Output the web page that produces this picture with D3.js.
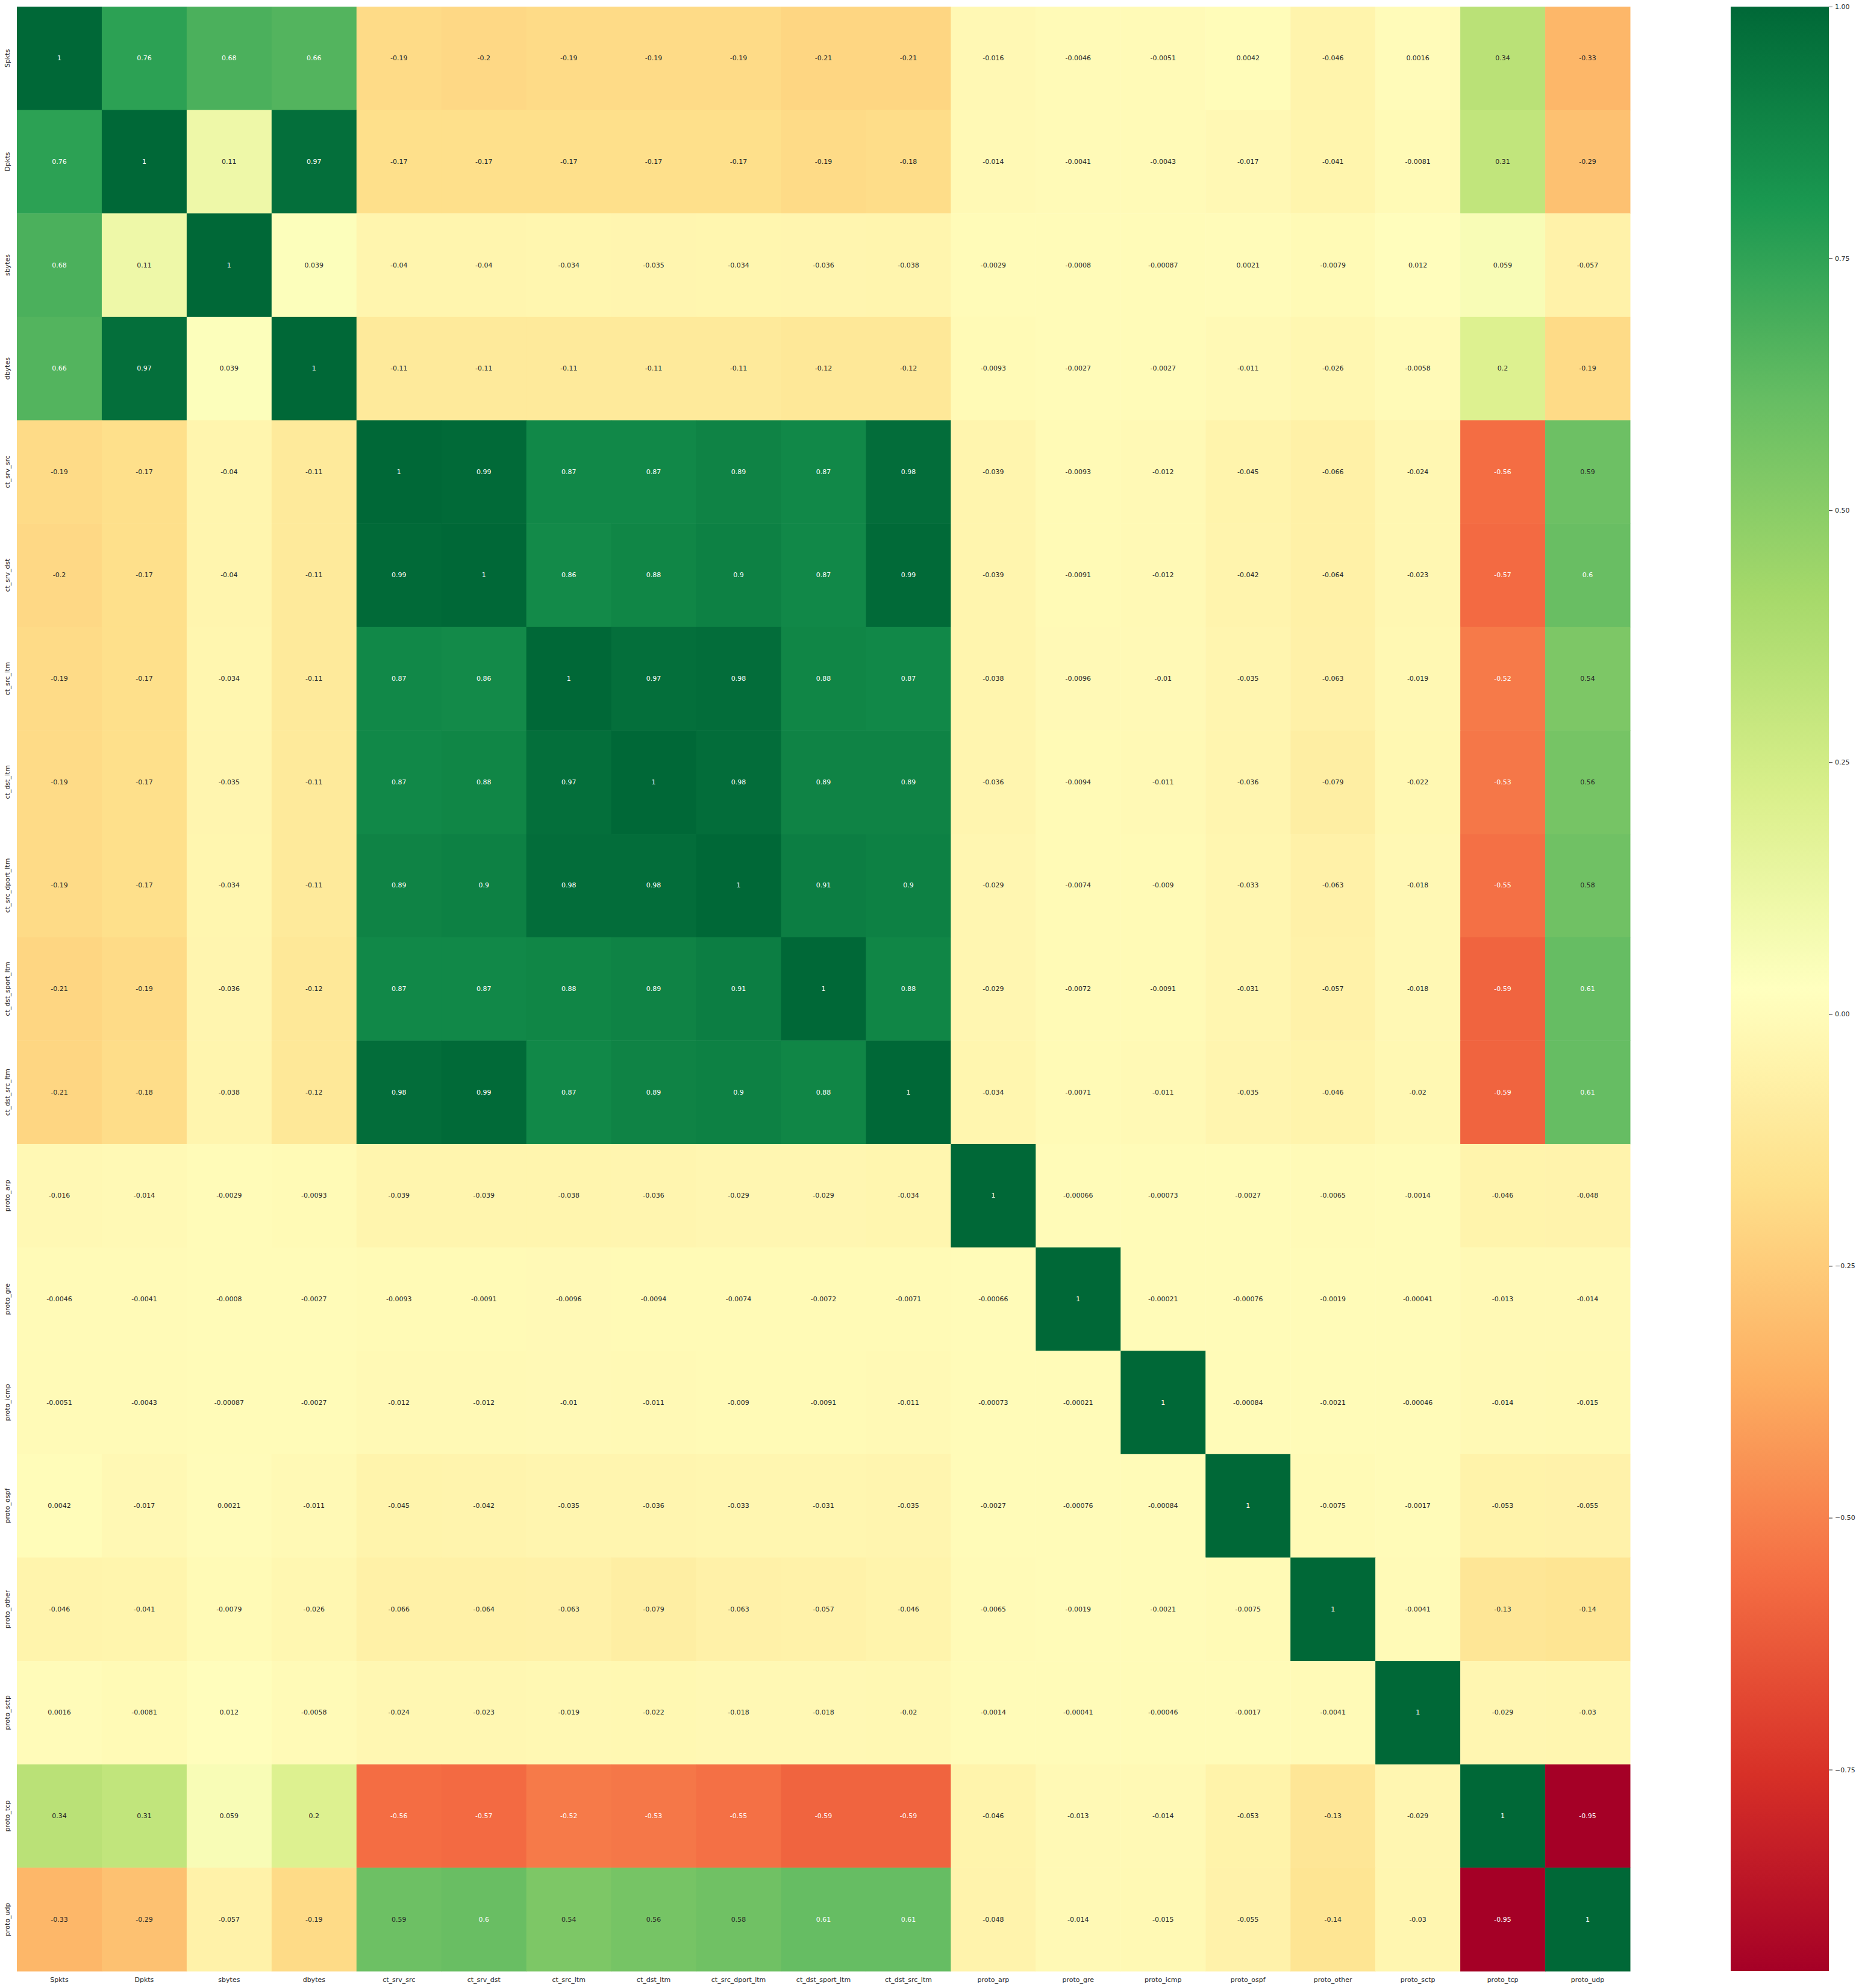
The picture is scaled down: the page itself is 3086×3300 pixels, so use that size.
<!DOCTYPE html>
<html>
<head>
<meta charset="utf-8">
<script src="https://cdn.jsdelivr.net/npm/d3@7"></script>
<style>
  body { margin: 0; background: #fff; }
  text { font-family: "DejaVu Sans", sans-serif; }
</style>
</head>
<body>
<div id="chart"></div>
<script>
// feature names (same order on both axes)
var features = ["Spkts", "Dpkts", "sbytes", "dbytes", "ct_srv_src", "ct_srv_dst",
    "ct_src_ltm", "ct_dst_ltm", "ct_src_dport_ltm", "ct_dst_sport_ltm", "ct_dst_src_ltm",
    "proto_arp", "proto_gre", "proto_icmp", "proto_ospf", "proto_other", "proto_sctp",
    "proto_tcp", "proto_udp"];

// correlation matrix, one row per feature
var corr = [
    [1, 0.76, 0.68, 0.66, -0.19, -0.2, -0.19, -0.19, -0.19, -0.21, -0.21, -0.016, -0.0046, -0.0051, 0.0042, -0.046, 0.0016, 0.34, -0.33],
    [0.76, 1, 0.11, 0.97, -0.17, -0.17, -0.17, -0.17, -0.17, -0.19, -0.18, -0.014, -0.0041, -0.0043, -0.017, -0.041, -0.0081, 0.31, -0.29],
    [0.68, 0.11, 1, 0.039, -0.04, -0.04, -0.034, -0.035, -0.034, -0.036, -0.038, -0.0029, -0.0008, -0.00087, 0.0021, -0.0079, 0.012, 0.059, -0.057],
    [0.66, 0.97, 0.039, 1, -0.11, -0.11, -0.11, -0.11, -0.11, -0.12, -0.12, -0.0093, -0.0027, -0.0027, -0.011, -0.026, -0.0058, 0.2, -0.19],
    [-0.19, -0.17, -0.04, -0.11, 1, 0.99, 0.87, 0.87, 0.89, 0.87, 0.98, -0.039, -0.0093, -0.012, -0.045, -0.066, -0.024, -0.56, 0.59],
    [-0.2, -0.17, -0.04, -0.11, 0.99, 1, 0.86, 0.88, 0.9, 0.87, 0.99, -0.039, -0.0091, -0.012, -0.042, -0.064, -0.023, -0.57, 0.6],
    [-0.19, -0.17, -0.034, -0.11, 0.87, 0.86, 1, 0.97, 0.98, 0.88, 0.87, -0.038, -0.0096, -0.01, -0.035, -0.063, -0.019, -0.52, 0.54],
    [-0.19, -0.17, -0.035, -0.11, 0.87, 0.88, 0.97, 1, 0.98, 0.89, 0.89, -0.036, -0.0094, -0.011, -0.036, -0.079, -0.022, -0.53, 0.56],
    [-0.19, -0.17, -0.034, -0.11, 0.89, 0.9, 0.98, 0.98, 1, 0.91, 0.9, -0.029, -0.0074, -0.009, -0.033, -0.063, -0.018, -0.55, 0.58],
    [-0.21, -0.19, -0.036, -0.12, 0.87, 0.87, 0.88, 0.89, 0.91, 1, 0.88, -0.029, -0.0072, -0.0091, -0.031, -0.057, -0.018, -0.59, 0.61],
    [-0.21, -0.18, -0.038, -0.12, 0.98, 0.99, 0.87, 0.89, 0.9, 0.88, 1, -0.034, -0.0071, -0.011, -0.035, -0.046, -0.02, -0.59, 0.61],
    [-0.016, -0.014, -0.0029, -0.0093, -0.039, -0.039, -0.038, -0.036, -0.029, -0.029, -0.034, 1, -0.00066, -0.00073, -0.0027, -0.0065, -0.0014, -0.046, -0.048],
    [-0.0046, -0.0041, -0.0008, -0.0027, -0.0093, -0.0091, -0.0096, -0.0094, -0.0074, -0.0072, -0.0071, -0.00066, 1, -0.00021, -0.00076, -0.0019, -0.00041, -0.013, -0.014],
    [-0.0051, -0.0043, -0.00087, -0.0027, -0.012, -0.012, -0.01, -0.011, -0.009, -0.0091, -0.011, -0.00073, -0.00021, 1, -0.00084, -0.0021, -0.00046, -0.014, -0.015],
    [0.0042, -0.017, 0.0021, -0.011, -0.045, -0.042, -0.035, -0.036, -0.033, -0.031, -0.035, -0.0027, -0.00076, -0.00084, 1, -0.0075, -0.0017, -0.053, -0.055],
    [-0.046, -0.041, -0.0079, -0.026, -0.066, -0.064, -0.063, -0.079, -0.063, -0.057, -0.046, -0.0065, -0.0019, -0.0021, -0.0075, 1, -0.0041, -0.13, -0.14],
    [0.0016, -0.0081, 0.012, -0.0058, -0.024, -0.023, -0.019, -0.022, -0.018, -0.018, -0.02, -0.0014, -0.00041, -0.00046, -0.0017, -0.0041, 1, -0.029, -0.03],
    [0.34, 0.31, 0.059, 0.2, -0.56, -0.57, -0.52, -0.53, -0.55, -0.59, -0.59, -0.046, -0.013, -0.014, -0.053, -0.13, -0.029, 1, -0.95],
    [-0.33, -0.29, -0.057, -0.19, 0.59, 0.6, 0.54, 0.56, 0.58, 0.61, 0.61, -0.048, -0.014, -0.015, -0.055, -0.14, -0.03, -0.95, 1]
];

var colorbarTicks = [-0.75, -0.5, -0.25, 0, 0.25, 0.5, 0.75, 1];
var vmin = -0.95, vmax = 1;

// matplotlib RdYlGn anchors (linear in rgb)
var rdylgn = ["#a50026", "#d73027", "#f46d43", "#fdae61", "#fee08b", "#ffffbf",
    "#d9ef8b", "#a6d96a", "#66bd63", "#1a9850", "#006837"];

var width = 3086, height = 3300;
var margin = {left: 28, top: 11};
var heatW = 2706 - margin.left;
var heatH = 3272 - margin.top;

var svg = d3.select("#chart").append("svg")
    .attr("width", width)
    .attr("height", height);

var t = d3.scaleLinear().domain([vmin, vmax]).range([0, 1]).clamp(true);
var cmap = d3.scaleLinear()
    .domain(d3.range(rdylgn.length).map(function (i) { return i / (rdylgn.length - 1); }))
    .range(rdylgn)
    .interpolate(d3.interpolateRgb);
function colorOf(v) { return cmap(t(v)); }

// seaborn style text colour choice
function luminance(c) {
    var rgb = d3.rgb(c);
    var lin = [rgb.r, rgb.g, rgb.b].map(function (x) {
        x = x / 255;
        return x <= 0.03928 ? x / 12.92 : Math.pow((x + 0.055) / 1.055, 2.4);
    });
    return 0.2126 * lin[0] + 0.7152 * lin[1] + 0.0722 * lin[2];
}

var fmt = d3.formatLocale({decimal: ".", thousands: ",", grouping: [3], currency: ["", ""], minus: "-"}).format(".2~g");

var x = d3.scaleBand().domain(features).range([margin.left, margin.left + heatW]);
var y = d3.scaleBand().domain(features).range([margin.top, margin.top + heatH]);

var cells = [];
corr.forEach(function (row, i) {
    row.forEach(function (v, j) {
        cells.push({row: features[i], col: features[j], value: v});
    });
});

var g = svg.append("g");

g.selectAll("rect.cell")
    .data(cells)
    .enter()
    .append("rect")
    .attr("class", "cell")
    .attr("x", function (d) { return x(d.col); })
    .attr("y", function (d) { return y(d.row); })
    .attr("width", x.bandwidth() + 0.5)
    .attr("height", y.bandwidth() + 0.5)
    .attr("fill", function (d) { return colorOf(d.value); });

g.selectAll("text.annot")
    .data(cells)
    .enter()
    .append("text")
    .attr("class", "annot")
    .attr("x", function (d) { return x(d.col) + x.bandwidth() / 2; })
    .attr("y", function (d) { return y(d.row) + y.bandwidth() / 2; })
    .attr("text-anchor", "middle")
    .attr("dominant-baseline", "central")
    .attr("font-size", "11px")
    .attr("fill", function (d) { return luminance(colorOf(d.value)) > 0.408 ? "#262626" : "#ffffff"; })
    .text(function (d) { return fmt(d.value); });

// x labels
svg.selectAll("text.xlab")
    .data(features)
    .enter()
    .append("text")
    .attr("class", "xlab")
    .attr("x", function (d) { return x(d) + x.bandwidth() / 2; })
    .attr("y", margin.top + heatH + 18)
    .attr("text-anchor", "middle")
    .attr("font-size", "11px")
    .attr("fill", "#262626")
    .text(function (d) { return d; });

// y labels, vertical
svg.selectAll("text.ylab")
    .data(features)
    .enter()
    .append("text")
    .attr("class", "ylab")
    .attr("transform", function (d) {
        return "translate(16," + (y(d) + y.bandwidth() / 2) + ") rotate(-90)";
    })
    .attr("text-anchor", "middle")
    .attr("font-size", "11px")
    .attr("fill", "#262626")
    .text(function (d) { return d; });

// colorbar
var cbX = 2873, cbW = 3036 - 2873;
var cbScale = d3.scaleLinear().domain([vmin, vmax]).range([margin.top + heatH, margin.top]);

var grad = svg.append("defs").append("linearGradient")
    .attr("id", "cbgrad")
    .attr("x1", 0).attr("y1", 1).attr("x2", 0).attr("y2", 0);
grad.selectAll("stop")
    .data(d3.range(0, 1.0001, 0.02))
    .enter()
    .append("stop")
    .attr("offset", function (d) { return d; })
    .attr("stop-color", function (d) { return cmap(d); });

svg.append("rect")
    .attr("x", cbX)
    .attr("y", margin.top)
    .attr("width", cbW)
    .attr("height", heatH)
    .attr("fill", "url(#cbgrad)");

var cbAxis = d3.axisRight(cbScale)
    .tickValues(colorbarTicks)
    .tickSize(6)
    .tickPadding(4)
    .tickFormat(d3.format(".2f"));

var cbG = svg.append("g")
    .attr("transform", "translate(" + (cbX + cbW) + ",0)")
    .call(cbAxis);
cbG.select(".domain").remove();
cbG.selectAll("line").attr("stroke", "#262626");
cbG.selectAll("text")
    .attr("font-size", "11px")
    .attr("font-family", "DejaVu Sans, sans-serif")
    .attr("fill", "#262626");
</script>
</body>
</html>
